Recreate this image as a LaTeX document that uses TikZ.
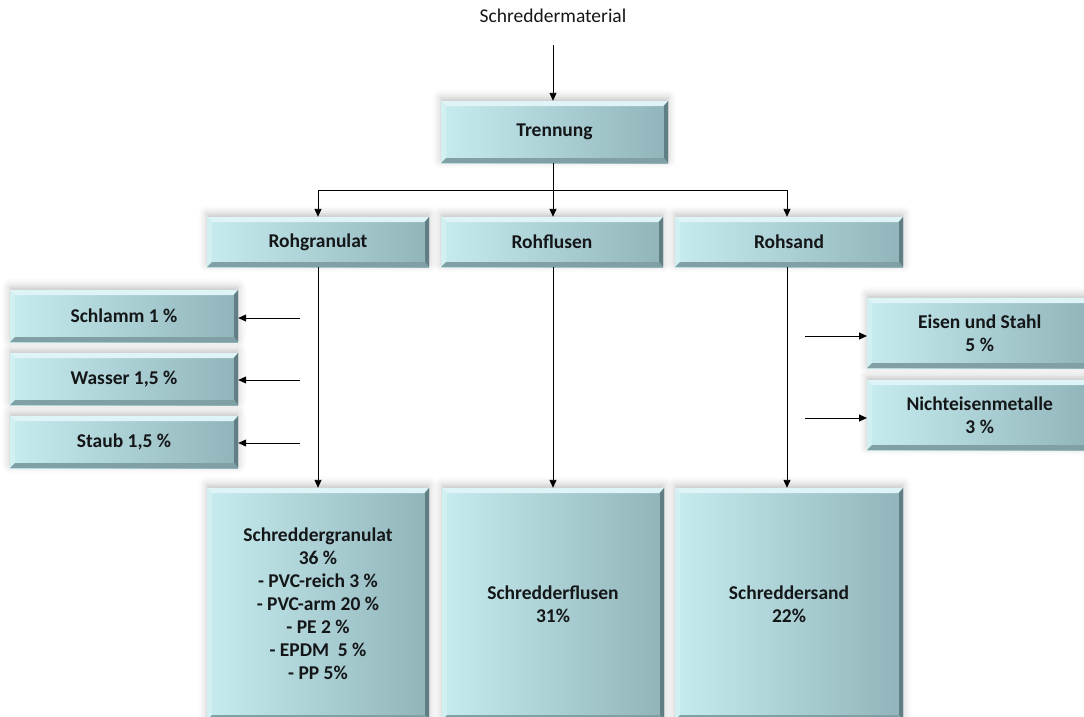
\documentclass[tikz,border=0pt]{standalone}
\usepackage{fontspec}
\setmainfont{Carlito}
\usetikzlibrary{arrows.meta,shadows.blur}

\definecolor{boxL}{RGB}{198,236,240}
\definecolor{boxM}{RGB}{182,223,228}
\definecolor{boxR}{RGB}{144,180,185}
\definecolor{bevT}{RGB}{222,244,246}
\definecolor{bevL}{RGB}{210,239,242}
\definecolor{bevR}{RGB}{96,126,131}
\definecolor{bevB}{RGB}{128,160,165}
\definecolor{txt}{RGB}{20,22,24}

\tikzset{
  bevelbox/.style={
    rectangle, inner sep=0pt, align=center, text=txt,
    font=\bfseries\fontsize{19.5}{23}\selectfont,
    left color=boxL, middle color=boxM, right color=boxR,
    blur shadow={shadow xshift=0pt, shadow yshift=3pt,
                 shadow blur radius=8pt, shadow opacity=25},
    path picture={
      % top and left edges catch the light, right and bottom edges fall in shade
      \fill[bevT] (path picture bounding box.north west) -- (path picture bounding box.north east)
        -- ([shift={(-5pt,-5pt)}]path picture bounding box.north east)
        -- ([shift={(5pt,-5pt)}]path picture bounding box.north west) -- cycle;
      \fill[bevL] (path picture bounding box.north west) -- (path picture bounding box.south west)
        -- ([shift={(5pt,5pt)}]path picture bounding box.south west)
        -- ([shift={(5pt,-5pt)}]path picture bounding box.north west) -- cycle;
      \fill[bevR] (path picture bounding box.north east) -- (path picture bounding box.south east)
        -- ([shift={(-4pt,5pt)}]path picture bounding box.south east)
        -- ([shift={(-4pt,-5pt)}]path picture bounding box.north east) -- cycle;
      \fill[bevB] (path picture bounding box.south west) -- (path picture bounding box.south east)
        -- ([shift={(-4pt,5pt)}]path picture bounding box.south east)
        -- ([shift={(5pt,5pt)}]path picture bounding box.south west) -- cycle;
    }},
  flow/.style={draw=black, line width=0.9pt, -{Triangle[length=8pt,width=7pt]}},
  plain/.style={draw=black, line width=0.9pt}
}

\begin{document}
\begin{tikzpicture}[x=1pt,y=-1pt]
  \useasboundingbox (0,0) rectangle (1084,717);
  \clip (0,0) rectangle (1084,717);

  \node[font=\fontsize{19.5}{23}\selectfont, text=txt] (src) at (553,16) {Schreddermaterial};

  \node[bevelbox, minimum width=227pt, minimum height=62pt] (tren) at (554.5,132) {Trennung};

  \node[bevelbox, minimum width=222pt, minimum height=50pt] (rg) at (318,242) {Rohgranulat};
  \node[bevelbox, minimum width=222pt, minimum height=50pt] (rf) at (552,242) {Rohflusen};
  \node[bevelbox, minimum width=228pt, minimum height=50pt] (rs) at (789,242) {Rohsand};

  \node[bevelbox, minimum width=228pt, minimum height=52pt] (schl) at (124,316) {Schlamm 1~\%};
  \node[bevelbox, minimum width=228pt, minimum height=52pt] (wass) at (124,379) {Wasser 1,5~\%};
  \node[bevelbox, minimum width=228pt, minimum height=52pt] (stb) at (124,442) {Staub 1,5~\%};

  \node[bevelbox, minimum width=225pt, minimum height=70pt, anchor=west] (eis) at (867,333) {Eisen und Stahl\\5~\%};
  \node[bevelbox, minimum width=225pt, minimum height=70pt, anchor=west] (ne) at (867,415) {Nichteisenmetalle\\3~\%};

  % the product boxes run on past the lower edge
  \node[bevelbox, minimum width=222pt, minimum height=232pt] (sg) at (318,604)
    {Schreddergranulat\\36~\%\\- PVC-reich 3~\%\\- PVC-arm 20~\%\\- PE 2~\%\\- EPDM~~5~\%\\- PP 5\%};
  \node[bevelbox, minimum width=222pt, minimum height=232pt] (sf) at (553,604) {Schredderflusen\\31\%};
  \node[bevelbox, minimum width=228pt, minimum height=232pt] (ss) at (789,604) {Schreddersand\\22\%};

  % feed and separation
  \coordinate (srcend) at (553,45);
  \draw[flow] (srcend) -- (tren.north -| srcend);
  \coordinate (split) at (553,190);
  \draw[plain] (tren.south -| split) -- (split);
  \draw[plain] (split -| rg) -- (split -| 787,0);
  \draw[flow] (split -| rg) -- (rg.north);
  \draw[flow] (split) -- (rf.north -| split);
  \draw[flow] (split -| 787,0) -- (rs.north -| 787,0);

  % main streams
  \draw[flow] (rg.south) -- (sg.north);
  \draw[flow] (rf.south -| 553,0) -- (sf.north -| 553,0);
  \draw[flow] (rs.south -| 787,0) -- (ss.north -| 787,0);

  % side streams
  \coordinate (a1) at (300,318);
  \coordinate (a2) at (300,380);
  \coordinate (a3) at (300,443);
  \draw[flow] (a1) -- (a1 -| schl.east);
  \draw[flow] (a2) -- (a2 -| wass.east);
  \draw[flow] (a3) -- (a3 -| stb.east);
  \coordinate (b1) at (805,336);
  \coordinate (b2) at (805,418);
  \draw[flow] (b1) -- (b1 -| eis.west);
  \draw[flow] (b2) -- (b2 -| ne.west);
\end{tikzpicture}
\end{document}
